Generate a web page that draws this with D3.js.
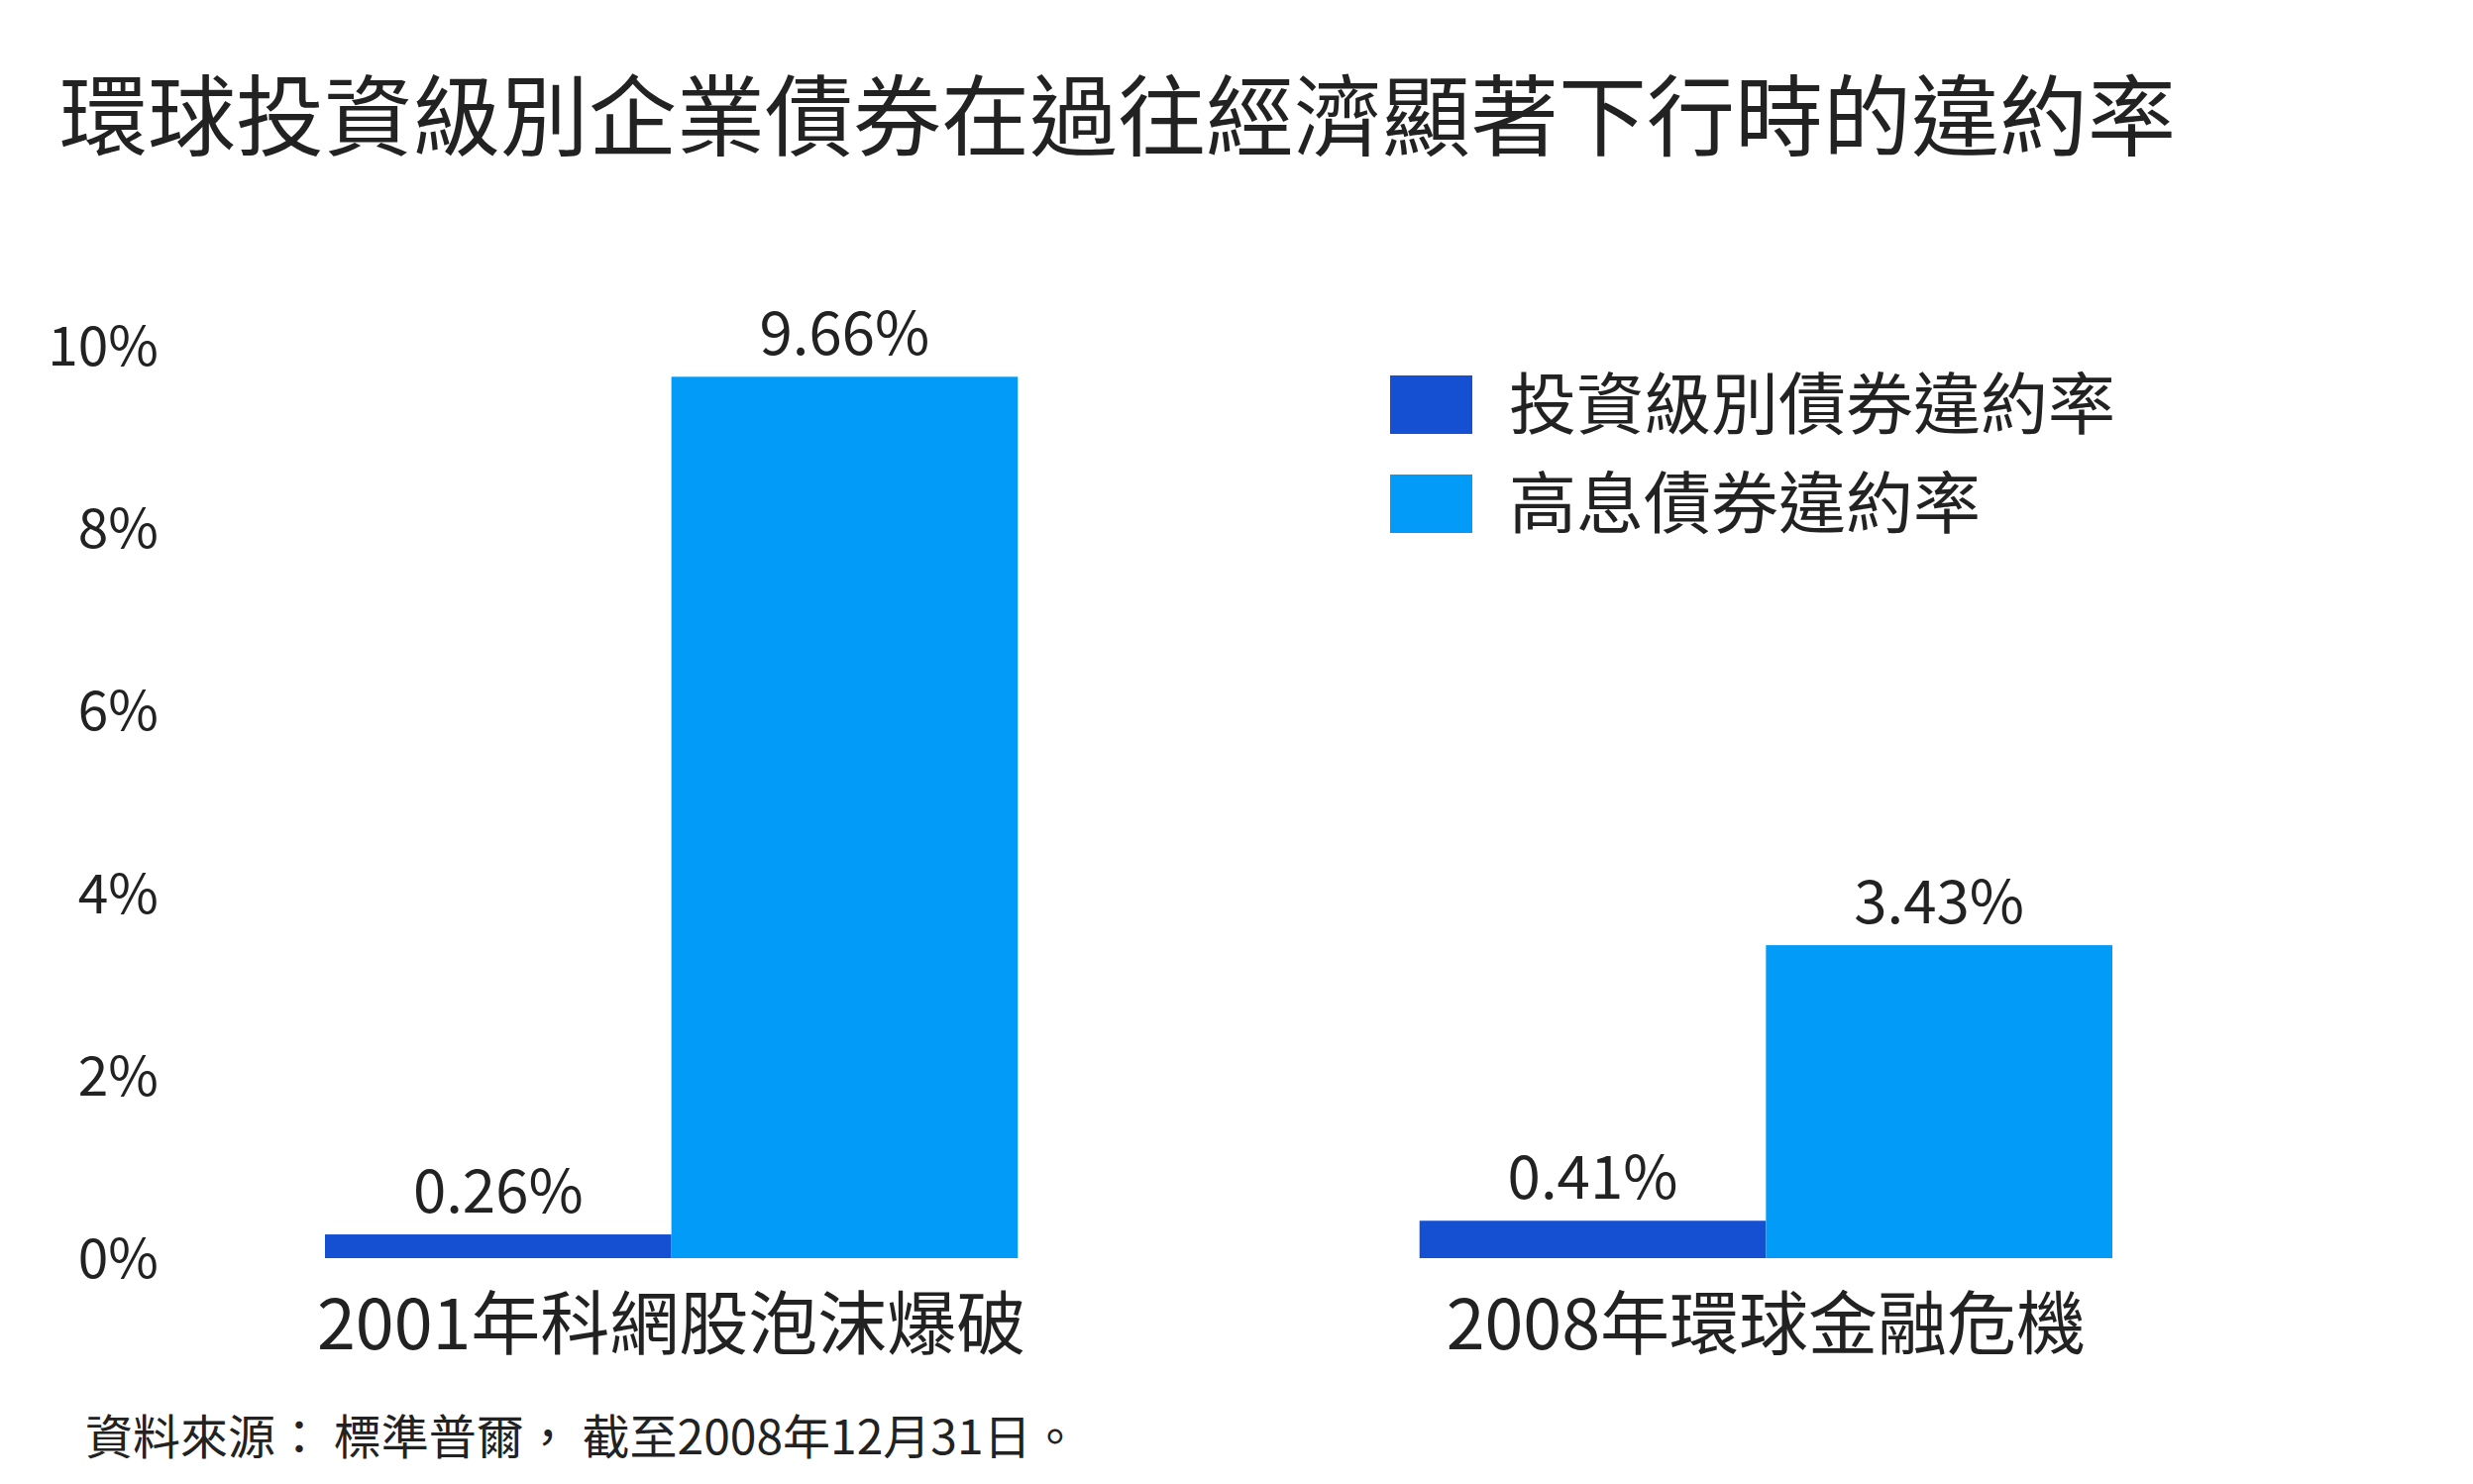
<!DOCTYPE html>
<html><head><meta charset="utf-8">
<script src="https://cdn.jsdelivr.net/npm/d3@7"></script>
<style>body{margin:0;background:#fff}text{font-family:"Noto Sans CJK TC","Noto Sans",sans-serif;fill:#222}</style>
</head><body><svg id="c" width="2496" height="1498"></svg>
<script>
// data
var categories = ['2001年科網股泡沫爆破', '2008年環球金融危機'];
var seriesNames = ['投資級別債券違約率', '高息債券違約率'];
var investGrade = [0.26, 0.41];
var highYield = [9.66, 3.43];
var yTicks = [0, 2, 4, 6, 8, 10];
var colors = ['#1650D2', '#039BF8'];

var svg = d3.select('#c');
var y = d3.scaleLinear().domain([0, 10]).range([1270, 349]);
var x = d3.scaleBand().domain(categories).range([328, 2132]).paddingInner(0.367).paddingOuter(0);
var xs = d3.scaleBand().domain([0, 1]).range([0, x.bandwidth()]);

svg.append('text').attr('x', 60).attr('y', 150).attr('font-size', 89).text('環球投資級別企業債券在過往經濟顯著下行時的違約率');

// y tick labels
svg.selectAll('.yt').data(yTicks).enter().append('text')
  .attr('x', 160).attr('y', function(d) { return y(d) + 20; })
  .attr('text-anchor', 'end').attr('font-size', 55).attr('font-family', 'Lato, sans-serif')
  .text(function(d) { return d + '%'; });

var rows = [];
categories.forEach(function(c, i) {
  rows.push({ c: c, s: 0, v: investGrade[i] });
  rows.push({ c: c, s: 1, v: highYield[i] });
});

svg.selectAll('rect.bar').data(rows).enter().append('rect')
  .attr('x', function(d) { return x(d.c) + xs(d.s); })
  .attr('width', xs.bandwidth())
  .attr('y', function(d) { return y(d.v); })
  .attr('height', function(d) { return y(0) - y(d.v); })
  .attr('fill', function(d) { return colors[d.s]; });

svg.selectAll('.vl').data(rows).enter().append('text')
  .attr('x', function(d) { return x(d.c) + xs(d.s) + xs.bandwidth() / 2; })
  .attr('y', function(d) { return y(d.v) - 22; })
  .attr('text-anchor', 'middle').attr('font-size', 60).attr('font-family', 'Lato, sans-serif')
  .text(function(d) { return d.v.toFixed(2) + '%'; });

svg.selectAll('.cl').data(categories).enter().append('text')
  .attr('x', function(d) { return x(d) + x.bandwidth() / 2; })
  .attr('y', 1362).attr('text-anchor', 'middle').attr('font-size', 70)
  .text(function(d) { return d; });

// legend
var lg = svg.selectAll('.lg').data(seriesNames).enter().append('g')
  .attr('transform', function(d, i) { return 'translate(1403,' + (379 + i * 100) + ')'; });
lg.append('rect').attr('width', 83).attr('height', 59).attr('fill', function(d, i) { return colors[i]; });
lg.append('text').attr('x', 120).attr('y', 54).attr('font-size', 68).text(function(d) { return d; });

svg.append('text').attr('x', 86).attr('y', 1468).attr('font-size', 48).text('資料來源： 標準普爾， 截至2008年12月31日。');
</script></body></html>
